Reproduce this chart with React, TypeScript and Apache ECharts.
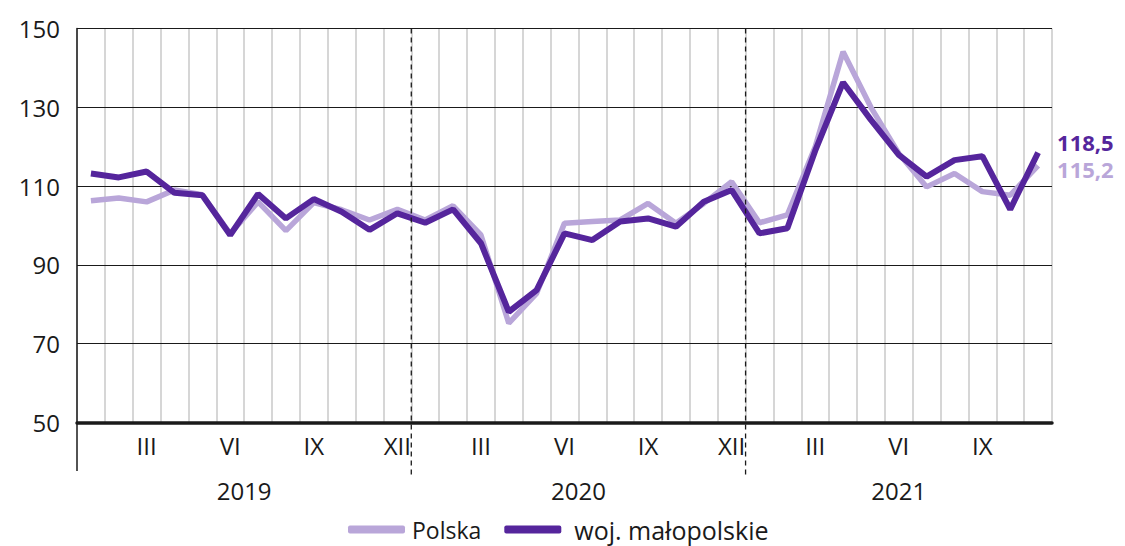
import React, { useEffect, useRef } from "react";
import * as echarts from "echarts";

const years = ["2019", "2020", "2021"];
const monthsPerYear = [12, 12, 11];
const romanMonths = ["I", "II", "III", "IV", "V", "VI", "VII", "VIII", "IX", "X", "XI", "XII"];
const shownMonths = ["III", "VI", "IX", "XII"];

const seriesNames = ["Polska", "woj. małopolskie"];

const polska = [
  106.3, 107.0, 106.0, 109.0, 107.8, 97.9, 106.0, 98.7, 105.8, 104.0, 101.4, 104.1,
  101.4, 105.0, 97.6, 75.2, 82.8, 100.6, 101.0, 101.4, 105.6, 100.6, 105.6, 111.1,
  100.7, 102.7, 120.0, 144.1, 130.0, 118.3, 109.8, 113.2, 108.6, 107.7, 115.2,
];

const malopolskie = [
  113.2, 112.2, 113.7, 108.3, 107.7, 97.6, 108.0, 101.8, 106.7, 103.5, 98.9, 103.1,
  100.7, 104.1, 95.5, 78.1, 83.6, 98.0, 96.3, 101.0, 101.8, 99.7, 106.0, 109.0,
  98.0, 99.3, 119.0, 136.3, 126.8, 117.9, 112.4, 116.6, 117.6, 104.1, 118.5,
];

const yTicks = { min: 50, max: 150, interval: 20 };

const categories: string[] = [];
years.forEach((y, yi) => {
  for (let m = 0; m < monthsPerYear[yi]; m++) categories.push(romanMonths[m]);
});

const FONT = "Open Sans";
const TEXT = "#1a1a1a";
const LIGHT = "#b9a6d9";
const DARK = "#55259c";

export default function App() {
  const ref = useRef<HTMLDivElement>(null);

  useEffect(() => {
    if (!ref.current) return;
    const chart = echarts.init(ref.current, null, { renderer: "svg" });
    const fmt = (p: any) => {
      const v = Array.isArray(p.value) ? p.value[1] : p.value;
      return Number(v).toFixed(1).replace(".", ",");
    };
    chart.setOption({
      animation: false,
      textStyle: { fontFamily: FONT },
      grid: { left: 77, right: 73, top: 28.5, bottom: 123.5, containLabel: false },
      legend: {
        data: [
          { name: seriesNames[0] },
          {
            name: seriesNames[1],
            textStyle: { fontFamily: FONT, fontSize: 25, lineHeight: 24, color: TEXT, padding: [0, 0, 0, 8] },
          },
        ],
        left: 348,
        top: 517,
        padding: 0,
        icon: "roundRect",
        itemWidth: 57,
        itemHeight: 8,
        itemGap: 23,
        textStyle: {
          fontFamily: FONT,
          fontSize: 23,
          lineHeight: 24,
          color: TEXT,
          padding: [0, 0, 0, 2],
        },
      },
      xAxis: {
        type: "category",
        data: categories,
        boundaryGap: true,
        axisLine: { show: true, onZero: false, lineStyle: { color: TEXT, width: 3.5 } },
        axisTick: { show: false },
        axisLabel: {
          interval: (_i: number, v: string) => shownMonths.indexOf(v) >= 0,
          fontFamily: FONT,
          fontSize: 24,
          color: TEXT,
          margin: 11,
        },
        splitLine: { show: true, interval: 0, lineStyle: { color: "#d6d6d6", width: 2 } },
        z: 1,
      },
      yAxis: {
        type: "value",
        min: yTicks.min,
        max: yTicks.max,
        interval: yTicks.interval,
        axisLine: { show: true, lineStyle: { color: TEXT, width: 1.5 } },
        axisTick: { show: false },
        axisLabel: { fontFamily: FONT, fontSize: 24, color: TEXT, margin: 17 },
        splitLine: { show: true, lineStyle: { color: TEXT, width: 1 } },
        z: 2,
      },
      series: [
        {
          name: seriesNames[0],
          type: "line",
          data: polska,
          symbol: "none",
          color: LIGHT,
          lineStyle: { color: LIGHT, width: 5.5 },
          z: 3,
          endLabel: {
            show: true,
            formatter: fmt,
            color: LIGHT,
            fontFamily: FONT,
            fontWeight: "bold",
            fontSize: 22,
            lineHeight: 20,
            distance: 19,
            offset: [0, 3.5],
          },
        },
        {
          name: seriesNames[1],
          type: "line",
          data: malopolskie,
          symbol: "none",
          color: DARK,
          lineStyle: { color: DARK, width: 6 },
          z: 4,
          endLabel: {
            show: true,
            formatter: fmt,
            color: DARK,
            fontFamily: FONT,
            fontWeight: "bold",
            fontSize: 22,
            lineHeight: 20,
            distance: 19,
            offset: [0, -10.5],
          },
        },
      ],
    });

    const c0 = chart.convertToPixel({ xAxisIndex: 0 }, 0) as number;
    const c1 = chart.convertToPixel({ xAxisIndex: 0 }, 1) as number;
    const w = c1 - c0;
    const bx = (k: number) => c0 - w / 2 + k * w;
    const yTop = chart.convertToPixel({ yAxisIndex: 0 }, yTicks.max) as number;
    const yBot = chart.convertToPixel({ yAxisIndex: 0 }, yTicks.min) as number;

    const graphics: any[] = [];
    graphics.push({
      type: "line",
      shape: { x1: bx(0), y1: yBot, x2: bx(0), y2: yBot + 48.5 },
      style: { stroke: TEXT, lineWidth: 1.5 },
      z: 10,
    });
    let start = 0;
    years.forEach((y, yi) => {
      const n = monthsPerYear[yi];
      graphics.push({
        type: "text",
        x: (bx(start) + bx(start + n)) / 2,
        y: yBot + 68,
        style: {
          text: y,
          fontFamily: FONT,
          fontSize: 24,
          fill: TEXT,
          align: "center",
          verticalAlign: "middle",
        },
        z: 10,
      });
      if (yi > 0) {
        graphics.push({
          type: "line",
          shape: { x1: bx(start), y1: yTop, x2: bx(start), y2: yBot + 55 },
          style: { stroke: TEXT, lineWidth: 1.3, lineDash: [5, 4] },
          z: 10,
        });
      }
      start += n;
    });
    chart.setOption({ graphic: graphics });

    return () => chart.dispose();
  }, []);

  return (
    <div
      ref={ref}
      style={{ position: "absolute", left: 0, top: 0, width: 1125, height: 546, background: "#fff" }}
    />
  );
}
